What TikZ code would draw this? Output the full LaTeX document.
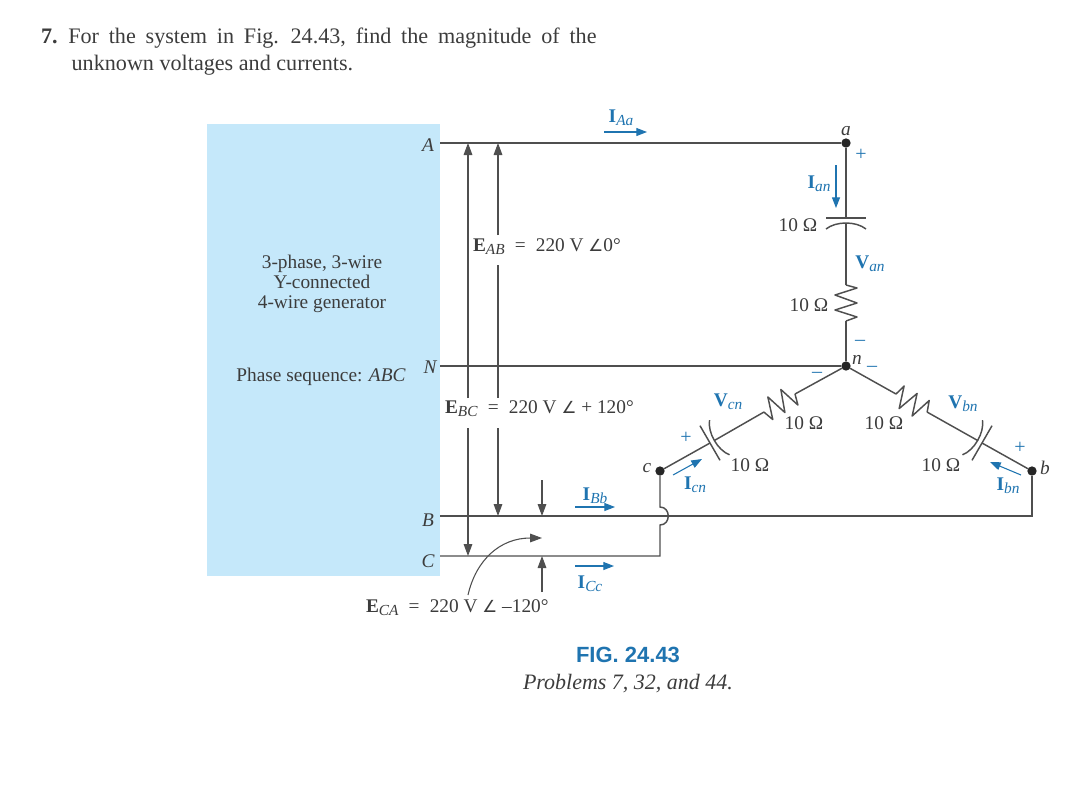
\documentclass[tikz,border=0pt]{standalone}
\usepackage{fontspec}
\setmainfont{Liberation Serif}
\newfontfamily\figfont{Liberation Sans}
\newfontfamily\symfont{DejaVu Sans}
\usetikzlibrary{arrows.meta}
\definecolor{txtgray}{HTML}{3C3C3C}
\definecolor{wiregray}{HTML}{4F4F4F}
\definecolor{bookblue}{HTML}{1F74B0}
\definecolor{genblue}{HTML}{C5E8FA}
\newcommand{\blab}[2]{\textbf{#1}\raisebox{-.35ex}{\fontsize{11.5}{12}\selectfont\textit{#2}}}
\newcommand{\elab}[2]{\textbf{#1}\raisebox{-.35ex}{\fontsize{11.5}{12}\selectfont\textit{#2}}}
\newcommand{\angsym}{{\symfont\fontsize{12.5}{15}\selectfont ∠}}
\begin{document}
\begin{tikzpicture}[x=0.75pt,y=-0.75pt,
    every node/.style={inner sep=0pt,outer sep=0pt,text=txtgray,font=\fontsize{14.5}{15}\selectfont},
    wire/.style={draw=wiregray,line width=1.1pt},
    volt/.style={draw=wiregray,line width=.8pt,-{Stealth[length=9pt,width=6.5pt,inset=0pt]}},
    curr/.style={draw=bookblue,line width=.8pt,-{Stealth[length=8pt,width=6pt,inset=0pt]}},
    dot/.style={circle,fill=black!85,minimum size=7pt},
    pole/.style={font=\fontsize{14.5}{15}\selectfont\itshape},
    blue lab/.style={text=bookblue,font=\fontsize{14.5}{15}\selectfont},
    sign/.style={text=bookblue,font=\fontsize{15}{15}\selectfont},
    capsym/.pic={\draw[wire] (-20,0) -- (20,0);
        \draw[wire] (-20,11) .. controls (-10,3) and (10,3) .. (20,11);},
    ressym/.pic={\draw[wire,line join=round] (0,0) -- (11,3) -- (-11,10) -- (11,18) -- (-11,25) -- (11,32) -- (0,36);}]
\useasboundingbox (0,0) rectangle (1092,794);
\fill[genblue] (207,124) rectangle (440,576);

\node[anchor=north west,align=left,text=txtgray,font=\fontsize{16.6}{20.25}\selectfont,inner sep=0pt] (prob) at (41,28)
  {\textbf{7.}\hspace{8pt}{\spaceskip=7.35pt For the system in Fig. 24.43, find the magnitude of the}\\\hspace{23pt}unknown voltages and currents.};

\node[align=center] (gen) at (322,284) {3-phase, 3-wire\\Y-connected\\4-wire generator};
\node (seq) at (321,377) {Phase sequence: \textit{ABC}};

\node[pole] (Alab) at (428,145) {A};
\node[pole] (Nlab) at (430,367) {N};
\node[pole] (Blab) at (428,520) {B};
\node[pole] (Clab) at (428,561) {C};

\coordinate (Aw) at (440,143);
\coordinate (Nw) at (440,366);
\coordinate (Bw) at (440,516);
\coordinate (Cw) at (440,556);
\node[dot] (a) at (846,143) {};
\node[dot] (n) at (846,366) {};
\node[dot] (c) at (660,471) {};
\node[dot] (b) at (1032,471) {};
\node[pole] (alab) at (846,131) {a};
\node[pole] (nlab) at (857,360) {n};
\node[pole] (clab) at (647,468) {c};
\node[pole] (blab) at (1045,468) {b};

\coordinate (hoptop) at (660,507);
\coordinate (hopbot) at (660,525);
\coordinate (Cc) at (660,556);
\coordinate (Bb) at (1032,516);
\draw[wire] (Aw) -- (a);
\draw[wire] (Nw) -- (n);
\draw[wire] (Bw) -- (Bb) -- (b);
\draw[wire] (Cw) -- (Cc) -- (hopbot) .. controls (671,525) and (671,507) .. (hoptop) -- (c);

\coordinate (capAt) at (846,218);
\coordinate (capAb) at (846,223);
\coordinate (resAt) at (846,285);
\coordinate (resAb) at (846,321);
\draw[wire] (a) -- (capAt);
\draw[wire] (capAb) -- (resAt);
\draw[wire] (resAb) -- (n);
\path (capAt) pic {capsym};
\path (resAt) pic {ressym};

\coordinate (resCt) at (795,394);
\coordinate (resCb) at (764,412);
\coordinate (capCb) at (710,443);
\coordinate (capCt) at (714.5,440.4);
\draw[wire] (n) -- (resCt);
\draw[wire] (resCb) -- (capCt);
\draw[wire] (capCb) -- (c);
\path (capCb) pic[rotate=120] {capsym};
\path (resCt) pic[rotate=-60] {ressym};

\coordinate (resBt) at (896,394);
\coordinate (resBb) at (927,412);
\coordinate (capBb) at (982,443);
\coordinate (capBt) at (977.5,440.4);
\draw[wire] (n) -- (resBt);
\draw[wire] (resBb) -- (capBt);
\draw[wire] (capBb) -- (b);
\path (capBb) pic[rotate=-120] {capsym};
\path (resBt) pic[rotate=60] {ressym};

\node (rAr) at (809,305) {10 Ω};
\node (cAr) at (798,225) {10 Ω};
\node (rCr) at (804,423) {10 Ω};
\node (cCr) at (750,465) {10 Ω};
\node (rBr) at (884,423) {10 Ω};
\node (cBr) at (941,465) {10 Ω};

\coordinate (EA1) at (468,143);
\coordinate (EA2) at (498,143);
\coordinate (EAg) at (498,235);
\coordinate (EAh) at (498,265);
\coordinate (Eg1) at (468,398);
\coordinate (Eh1) at (468,428);
\coordinate (Eg2) at (498,398);
\coordinate (Eh2) at (498,428);
\coordinate (EC1) at (468,556);
\coordinate (EB2) at (498,516);
\draw[volt] (Eg1) -- (EA1);
\draw[volt] (EAg) -- (EA2);
\draw[wire,line width=.8pt] (EAh) -- (Eg2);
\draw[volt] (Eh1) -- (EC1);
\draw[volt] (Eh2) -- (EB2);

\coordinate (ECt) at (542,480);
\coordinate (ECb) at (542,516);
\coordinate (ECc) at (542,592);
\coordinate (ECd) at (542,556);
\coordinate (EDs) at (468,595);
\coordinate (EDe) at (542,538);
\draw[volt] (ECt) -- (ECb);
\draw[volt] (ECc) -- (ECd);
\draw[volt] (EDs) .. controls (476,560) and (500,538) .. (EDe);

\node[anchor=west] (Eab) at (473,246.5) {\elab{E}{AB}\hspace{4pt} = \hspace{4pt}220 V \angsym0°};
\node[anchor=west] (Ebc) at (445,408.5) {\elab{E}{BC}\hspace{4pt} = \hspace{4pt}220 V \angsym\ + 120°};
\node[anchor=west] (Eca) at (366,607.5) {\elab{E}{CA}\hspace{4pt} = \hspace{4pt}220 V \angsym\ –120°};

\coordinate (iAs) at (604,132);
\coordinate (iAe) at (647,132);
\coordinate (iBs) at (575,507);
\coordinate (iBe) at (615,507);
\coordinate (iCs) at (575,566);
\coordinate (iCe) at (614,566);
\coordinate (ians) at (836,165);
\coordinate (iane) at (836,208);
\coordinate (icns) at (673,475);
\coordinate (icne) at (702,459);
\coordinate (ibns) at (1021,475);
\coordinate (ibne) at (990,462);
\draw[curr] (iAs) -- (iAe);
\draw[curr] (iBs) -- (iBe);
\draw[curr] (iCs) -- (iCe);
\draw[curr] (ians) -- (iane);
\draw[curr] (icns) -- (icne);
\draw[curr] (ibns) -- (ibne);

\node[blue lab] (IAa) at (621,118) {\blab{I}{Aa}};
\node[blue lab] (IBb) at (595,496) {\blab{I}{Bb}};
\node[blue lab] (ICc) at (590,584) {\blab{I}{Cc}};
\node[blue lab] (Ian) at (819,184) {\blab{I}{an}};
\node[blue lab] (Icn) at (695,485) {\blab{I}{cn}};
\node[blue lab] (Ibn) at (1008,486) {\blab{I}{bn}};
\node[blue lab] (Van) at (870,264) {\blab{V}{an}};
\node[blue lab] (Vcn) at (728,402) {\blab{V}{cn}};
\node[blue lab] (Vbn) at (963,404) {\blab{V}{bn}};

\node[sign] (pa) at (861,155) {+};
\node[sign] (pc) at (686,438) {+};
\node[sign] (pb) at (1020,448) {+};
\node[sign] (ma) at (860,343) {–};
\node[sign] (mc) at (817,375) {–};
\node[sign] (mb) at (872,369) {–};

\node[text=bookblue,font=\figfont\bfseries\fontsize{16.5}{18}\selectfont] (figno) at (628,655) {FIG. 24.43};
\node[font=\itshape\fontsize{16.5}{18}\selectfont] (figcap) at (628,683.5) {Problems 7, 32, and 44.};
\end{tikzpicture}
\end{document}
